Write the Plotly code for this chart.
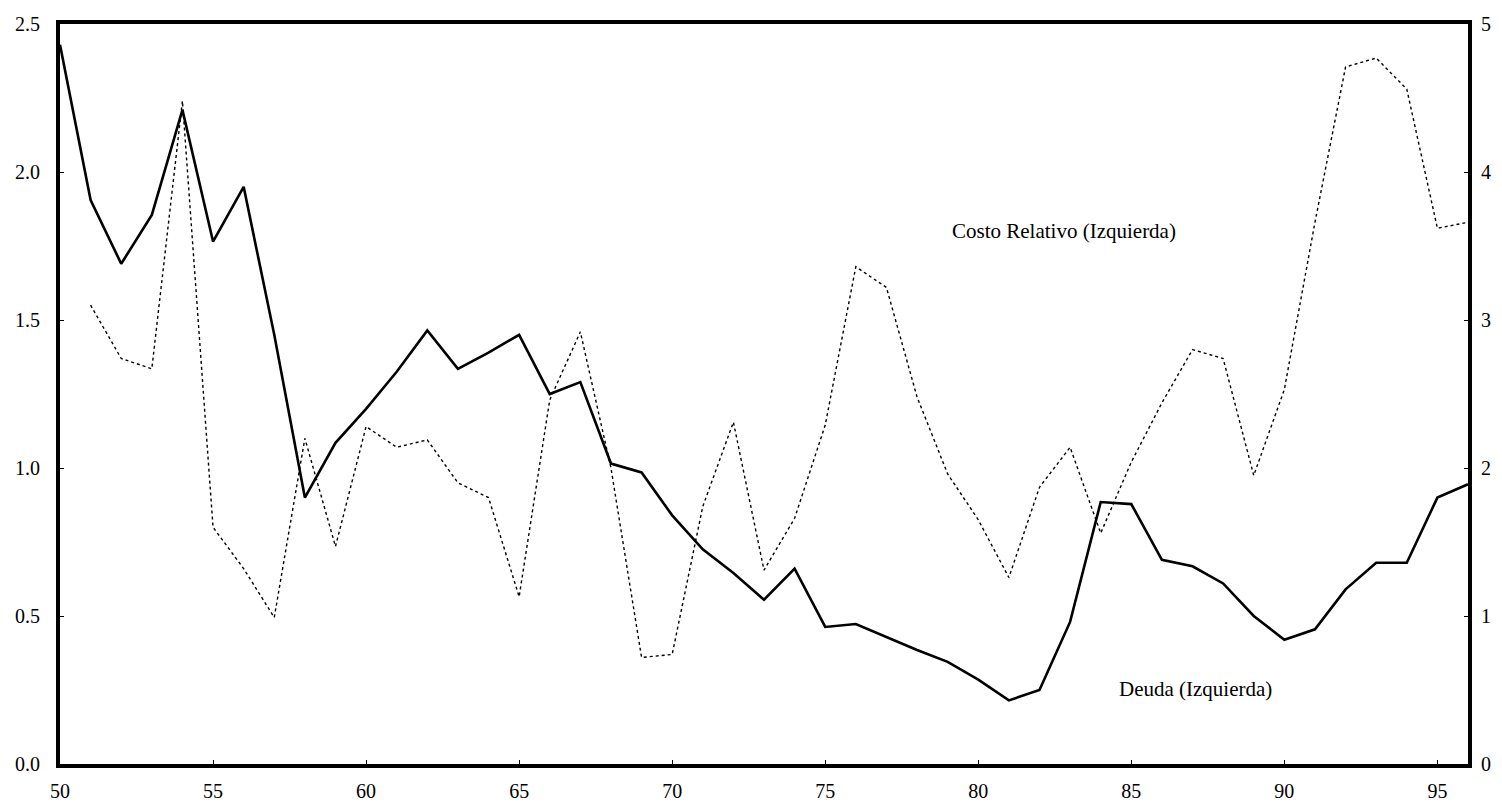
import plotly.graph_objects as go

years = list(range(50, 97))

deuda = [2.43, 1.905, 1.69, 1.855, 2.21, 1.765, 1.95, 1.45, 0.90, 1.085,
         1.20, 1.325, 1.465, 1.335, 1.39, 1.45, 1.25, 1.29, 1.015, 0.985,
         0.84, 0.725, 0.645, 0.555, 0.66, 0.463, 0.473, 0.43, 0.385, 0.345,
         0.285, 0.215, 0.25, 0.48, 0.885, 0.878, 0.69, 0.668, 0.61, 0.50,
         0.42, 0.455, 0.59, 0.68, 0.68, 0.90, 0.945]

costo = [None, 3.10, 2.74, 2.67, 4.48, 1.60, 1.32, 0.99, 2.20, 1.47,
         2.28, 2.14, 2.19, 1.90, 1.80, 1.13, 2.46, 2.92, 2.00, 0.72,
         0.74, 1.74, 2.31, 1.31, 1.66, 2.29, 3.36, 3.22, 2.48, 1.96,
         1.65, 1.26, 1.87, 2.14, 1.56, 2.04, 2.44, 2.80, 2.74, 1.95,
         2.53, 3.66, 4.71, 4.77, 4.56, 3.62, 3.66]

x_ticks = [50, 55, 60, 65, 70, 75, 80, 85, 90, 95]
left_ticks = [0.0, 0.5, 1.0, 1.5, 2.0, 2.5]
right_ticks = [0, 1, 2, 3, 4, 5]

FONT = "Liberation Serif"

fig = go.Figure()
fig.add_trace(go.Scatter(x=years, y=costo, mode="lines", yaxis="y2",
                         line=dict(color="black", width=1.4, dash="dot"),
                         name="Costo Relativo", showlegend=False))
fig.add_trace(go.Scatter(x=years, y=deuda, mode="lines", yaxis="y",
                         line=dict(color="black", width=2.6),
                         name="Deuda", showlegend=False))

fig.add_annotation(x=82.8, y=1.80, xref="x", yref="y", text="Costo Relativo (Izquierda)",
                   showarrow=False, font=dict(family=FONT, size=21, color="black"))
fig.add_annotation(x=87.1, y=0.255, xref="x", yref="y", text="Deuda (Izquierda)",
                   showarrow=False, font=dict(family=FONT, size=21, color="black"))

fig.update_layout(
    width=1494, height=801,
    margin=dict(l=52, r=34, t=16, b=45),
    paper_bgcolor="white", plot_bgcolor="white",
    font=dict(family=FONT, size=20, color="black"),
    xaxis=dict(range=[50, 96], tickvals=x_ticks, ticktext=[str(v) for v in x_ticks],
               showgrid=False, zeroline=False, showline=True, linewidth=4, linecolor="black",
               mirror=True, ticks="inside", ticklen=4, tickwidth=1, tickcolor="black",
               ticklabelstandoff=6, automargin=False),
    yaxis=dict(range=[0, 2.5], tickvals=left_ticks, ticktext=[f"{v:.1f}" for v in left_ticks],
               showgrid=False, zeroline=False, showline=True, linewidth=4, linecolor="black",
               ticks="inside", ticklen=4, tickwidth=1, tickcolor="black", ticklabelstandoff=12,
               automargin=False),
    yaxis2=dict(range=[0, 5], tickvals=right_ticks, ticktext=[str(v) for v in right_ticks],
                overlaying="y", side="right",
                showgrid=False, zeroline=False, showline=True, linewidth=4, linecolor="black",
                ticks="inside", ticklen=4, tickwidth=1, tickcolor="black", ticklabelstandoff=5,
                automargin=False),
)

fig.write_html("out.html")
